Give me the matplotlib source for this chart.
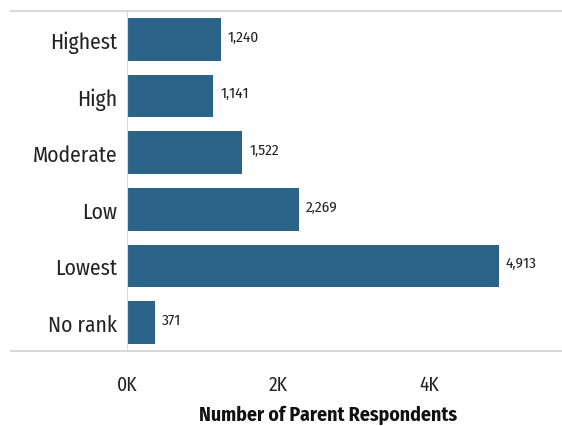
import matplotlib
matplotlib.use("Agg")
import matplotlib.pyplot as plt
from matplotlib.lines import Line2D

# parent respondents by rank
ranks = ["Highest", "High", "Moderate", "Low", "Lowest", "No rank"]
counts = [1240, 1141, 1522, 2269, 4913, 371]
tick_vals = [0, 2000, 4000]
tick_labels = ["0K", "2K", "4K"]

plt.rcParams["font.family"] = ["Fira Sans Condensed", "DejaVu Sans"]

bar_color = "#2c6388"
line_color = "#d9d9d9"

W, H = 562, 427
fig = plt.figure(figsize=(W / 100, H / 100), dpi=100)
ax = fig.add_axes([127 / W, 1 - 352 / H, (562 - 127) / W, (352 - 12) / H])

y = list(range(len(ranks)))
ax.barh(y, counts, height=0.75, color=bar_color)
for yi, c in zip(y, counts):
    ax.text(c + 95, yi - 0.05, f"{c:,}", va="center", ha="left", fontsize=11, color="#222222")

ax.set_ylim(len(ranks) - 0.5, -0.5)
ax.set_xlim(0, 5750)
ax.set_yticks(y)
ax.set_yticklabels(ranks, fontsize=15.5, color="#222222")
ax.set_xticks(tick_vals)
ax.set_xticklabels(tick_labels, fontsize=14, color="#222222")
ax.tick_params(axis="both", length=0)
ax.tick_params(axis="y", pad=7)
ax.tick_params(axis="x", pad=17)
for s in ax.spines.values():
    s.set_visible(False)
ax.axvline(0, color=line_color, lw=1.5)

# full-width rules above and below the bars
for yy in (12, 352):
    fig.add_artist(Line2D([11 / W, 1], [1 - yy / H, 1 - yy / H], color=line_color, lw=1.5,
                          transform=fig.transFigure))

fig.text(328 / W, 1 - 415 / H, "Number of Parent Respondents", ha="center", va="center",
         fontsize=14.2, fontweight="bold", color="#111111")

fig.savefig("out.png", dpi=100)
